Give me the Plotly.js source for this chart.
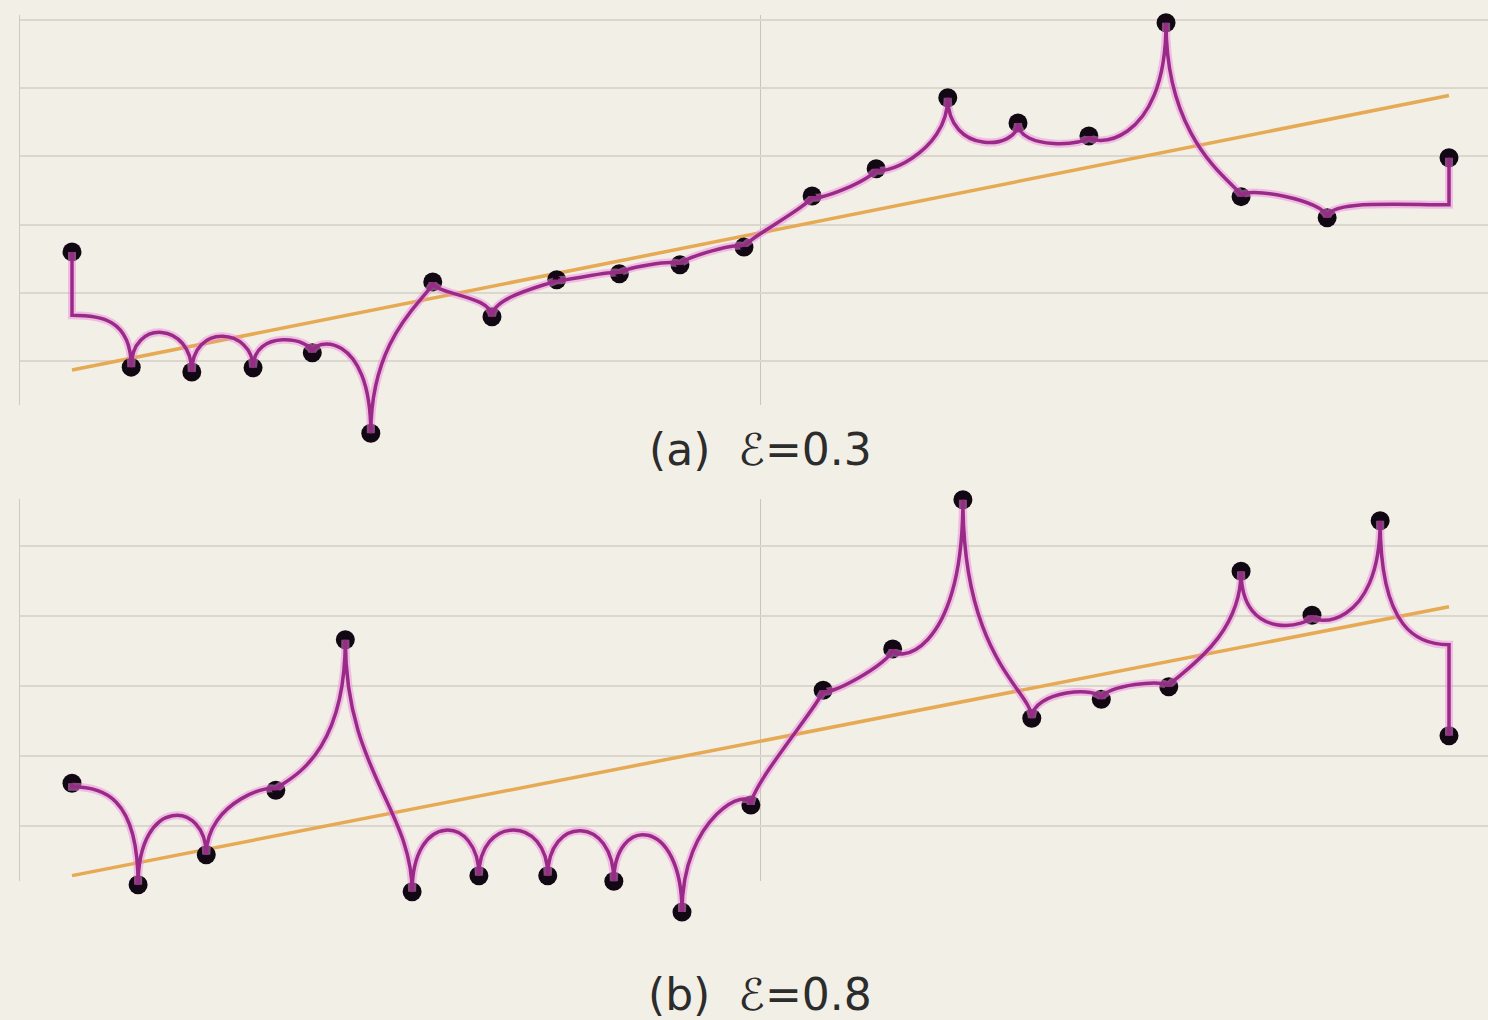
<!DOCTYPE html>
<html>
<head>
<meta charset="utf-8">
<script src="https://cdn.plot.ly/plotly-3.0.1.min.js"></script>
<style>
html,body{margin:0;padding:0;background:#f2efe6;}
#chart{width:1488px;height:1020px;}
</style>
</head>
<body>
<div id="chart"></div>
<script>
// ---------- data ----------
// panel (a)  E = 0.3
const xA = [0, 0.86, 1.74, 2.63, 3.49, 4.34, 5.24, 6.10, 7.04, 7.95, 8.83, 9.76, 10.75, 11.68, 12.72, 13.74, 14.77, 15.89, 16.98, 18.23, 20.0];
const yA = [1.60, -0.09, -0.16, -0.10, 0.12, -1.06, 1.16, 0.65, 1.19, 1.28, 1.41, 1.67, 2.42, 2.82, 3.86, 3.49, 3.30, 4.96, 2.41, 2.10, 2.98];
// level the smooth curve runs at, near each point
const levelA = [0.67, 0.63, 0.57, 0.48, 0.34, 0.46, 0.97, 0.97, 1.14, 1.36, 1.51, 1.77, 2.29, 2.68, 3.02, 3.09, 3.15, 3.09, 2.58, 2.36, 2.29];

// panel (b)  E = 0.8
const xB = [0, 0.96, 1.95, 2.96, 3.97, 4.94, 5.91, 6.91, 7.87, 8.86, 9.86, 10.91, 11.92, 12.94, 13.94, 14.95, 15.93, 16.98, 18.01, 19.0, 20.0];
const yB = [0.61, -0.84, -0.41, 0.51, 2.66, -0.94, -0.71, -0.71, -0.79, -1.23, 0.30, 1.94, 2.53, 4.66, 1.54, 1.81, 1.99, 3.64, 3.01, 4.36, 1.29];
const levelB = [0.56, 0.44, 0.37, 0.63, 0.80, 0.23, 0.16, 0.16, 0.16, 0.16, 0.59, 1.80, 2.34, 2.37, 1.94, 2.01, 2.11, 2.59, 2.86, 2.80, 2.59];

// grid / tick values
const gridA = [0, 1, 2, 3, 4, 5];
const gridB = [0, 1, 2, 3, 4];
const xGrid = [10];
const labelA = '(a)  \u2130=0.3';
const labelB = '(b)  \u2130=0.8';

// ---------- styling / geometry ----------
const W = 1488, H = 1020, ML = 20;
const BG = '#f2efe6';
const MAGENTA = '#9a2a87';
const GLOW = 'rgba(238,140,222,0.5)';
const ORANGE = '#e6a954';
const DOT = '#120814';

const xPx0 = 72, xPpu = 68.85;           // x pixel mapping
const xRange = [(ML - xPx0) / xPpu, (W - xPx0) / xPpu];

function dom(top, bottom) { return [1 - bottom / H, 1 - top / H]; }
function rng(top, bottom, zeroPx, ppu) { return [(zeroPx - bottom) / ppu, (zeroPx - top) / ppu]; }

const aZero = 361, aPpu = 68.2;
const bZero = 826, bPpu = 70;

function linearFit(x, y) {
  const n = x.length;
  const mx = x.reduce((s, v) => s + v, 0) / n;
  const my = y.reduce((s, v) => s + v, 0) / n;
  let sxy = 0, sxx = 0;
  for (let i = 0; i < n; i++) { sxy += (x[i] - mx) * (y[i] - my); sxx += (x[i] - mx) * (x[i] - mx); }
  const b = sxy / sxx;
  return { a: my - b * mx, b: b };
}
function trendTrace(x, y, xa, ya) {
  const f = linearFit(x, y);
  const xs = [Math.min(...x), Math.max(...x)];
  return { x: xs, y: xs.map(v => f.a + f.b * v), xaxis: xa, yaxis: ya, type: 'scatter', mode: 'lines',
           line: { color: ORANGE, width: 3.5 }, hoverinfo: 'skip', showlegend: false };
}
function pointTrace(x, y, xa, ya) {
  return { x: x, y: y, xaxis: xa, yaxis: ya, type: 'scatter', mode: 'markers',
           marker: { size: 19, color: DOT }, cliponaxis: false, showlegend: false };
}
// curve: every point joins the running level with a vertical tangent (cusp);
// the two end points hang on straight stems.
function cuspPath(x, y, lv) {
  const n = x.length;
  const P = (px, py) => px + ',' + py;
  let d = 'M' + P(x[0], y[0]) + ' L' + P(x[0], lv[0]);
  d += ' C' + P(x[0] + (x[1] - x[0]) * 0.45, lv[0]) + ' ' + P(x[1], lv[1]) + ' ' + P(x[1], y[1]);
  for (let i = 1; i < n - 2; i++) {
    d += ' C' + P(x[i], lv[i]) + ' ' + P(x[i + 1], lv[i + 1]) + ' ' + P(x[i + 1], y[i + 1]);
  }
  const k = n - 2;
  d += ' C' + P(x[k], lv[k]) + ' ' + P(x[k + 1] - (x[k + 1] - x[k]) * 0.45, lv[k + 1]) + ' ' + P(x[k + 1], lv[k + 1]);
  d += ' L' + P(x[k + 1], y[k + 1]);
  return d;
}
function curveShapes(x, y, lv, xr, yr) {
  const d = cuspPath(x, y, lv);
  return [
    { type: 'path', path: d, xref: xr, yref: yr, line: { color: GLOW, width: 8 }, fillcolor: 'rgba(0,0,0,0)', layer: 'above' },
    { type: 'path', path: d, xref: xr, yref: yr, line: { color: MAGENTA, width: 3.5 }, fillcolor: 'rgba(0,0,0,0)', layer: 'above' }
  ];
}

const frameX = (anchor) => ({ domain: [0, 1], range: xRange, anchor: anchor, tickmode: 'array', tickvals: xGrid,
  showgrid: true, gridcolor: '#c9c5bc', gridwidth: 1.3, zeroline: false, showline: false, ticks: '', showticklabels: false, fixedrange: true });
const frameY = (anchor, d, r, tv) => ({ domain: d, range: r, anchor: anchor, tickmode: 'array', tickvals: tv,
  showgrid: true, gridcolor: '#dbd7ce', gridwidth: 2, zeroline: false, showline: true, linecolor: '#cfcbc2', linewidth: 1.5,
  ticks: '', showticklabels: false, fixedrange: true });
const dataX = (anchor) => ({ domain: [0, 1], range: xRange, anchor: anchor, visible: false, fixedrange: true });
const dataY = (anchor, d, r) => ({ domain: d, range: r, anchor: anchor, visible: false, fixedrange: true });

const traces = [
  trendTrace(xA, yA, 'x', 'y'),
  trendTrace(xB, yB, 'x2', 'y2'),
  pointTrace(xA, yA, 'x3', 'y3'),
  pointTrace(xB, yB, 'x4', 'y4')
];

const labelFont = { family: '"DejaVu Sans", sans-serif', size: 44, color: '#2c2c2c' };

const layout = {
  width: W, height: H,
  margin: { l: ML, r: 0, t: 0, b: 0, pad: 0 },
  paper_bgcolor: BG, plot_bgcolor: 'rgba(0,0,0,0)',
  showlegend: false,
  xaxis: frameX('y'),
  yaxis: frameY('x', dom(15, 405), rng(15, 405, aZero, aPpu), gridA),
  xaxis2: frameX('y2'),
  yaxis2: frameY('x2', dom(499, 881), rng(499, 881, bZero, bPpu), gridB),
  xaxis3: dataX('y3'),
  yaxis3: dataY('x3', dom(0, 470), rng(0, 470, aZero, aPpu)),
  xaxis4: dataX('y4'),
  yaxis4: dataY('x4', dom(475, 1020), rng(475, 1020, bZero, bPpu)),
  shapes: [].concat(curveShapes(xA, yA, levelA, 'x3', 'y3'), curveShapes(xB, yB, levelB, 'x4', 'y4')),
  annotations: [
    { text: labelA, xref: 'paper', yref: 'paper', x: (760 - ML) / (W - ML), y: 1 - 449 / H, xanchor: 'center', yanchor: 'middle',
      showarrow: false, font: labelFont },
    { text: labelB, xref: 'paper', yref: 'paper', x: (760 - ML) / (W - ML), y: 1 - 994 / H, xanchor: 'center', yanchor: 'middle',
      showarrow: false, font: labelFont }
  ]
};

Plotly.newPlot('chart', traces, layout, { displayModeBar: false, staticPlot: true });
</script>
</body>
</html>
